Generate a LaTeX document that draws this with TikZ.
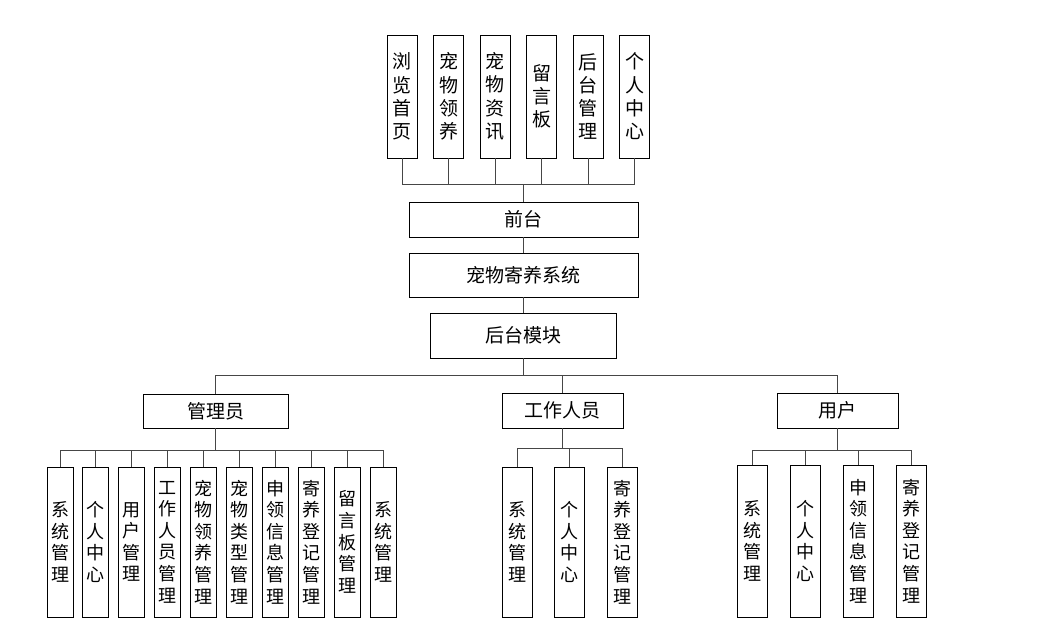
\documentclass[tikz,border=0pt]{standalone}
\usepackage{fontspec}
\setmainfont{Noto Sans CJK SC}
\usetikzlibrary{positioning}
\definecolor{linegray}{RGB}{70,70,70}

\begin{document}
\begin{tikzpicture}[x=1pt, y=-1pt, semithick]

    \tikzstyle{box} = [rectangle, draw=black, line width=0.9pt, inner sep=1pt, outer sep=0pt, align=center, font=\fontsize{19pt}{22pt}\selectfont]
    \tikzstyle{topbox} = [box, minimum width=30pt, minimum height=123pt, font=\fontsize{19pt}{23.3pt}\selectfont]
    \tikzstyle{leaf} = [box, minimum width=30pt, minimum height=150pt, font=\fontsize{18pt}{21.6pt}\selectfont]
    \tikzstyle{link} = [draw=linegray, line width=0.9pt]

    \useasboundingbox (0,0) rectangle (1043,639);

    % front end
    \node (home)    [topbox] at (402,96.5)          {浏\\览\\首\\页};
    \node (adopt)   [topbox, right=16.5pt of home]  {宠\\物\\领\\养};
    \node (news)    [topbox, right=16.5pt of adopt] {宠\\物\\资\\讯};
    \node (board)   [topbox, right=16.5pt of news]  {留\\言\\板};
    \node (backend) [topbox, right=16.5pt of board] {后\\台\\管\\理};
    \node (center)  [topbox, right=16.5pt of backend] {个\\人\\中\\心};

    \node (front)   [box, minimum width=229pt, minimum height=35pt] at (523.5,219.5) {前台};
    \node (system)  [box, minimum width=229pt, minimum height=44pt, below=16pt of front] {宠物寄养系统};
    \node (back)    [box, minimum width=186pt, minimum height=45pt, below=16pt of system] {后台模块};

    % roles
    \node (admin)   [box, minimum width=145pt, minimum height=34pt] at (215.5,411)   {管理员};
    \node (staff)   [box, minimum width=121pt, minimum height=35pt] at (562.5,410.5) {工作人员};
    \node (user)    [box, minimum width=121pt, minimum height=35pt] at (837.5,410.5) {用户};

    % admin modules
    \node (a1)  [leaf, minimum width=26pt] at (60,542)      {系\\统\\管\\理};
    \node (a2)  [leaf, minimum width=26pt, right=9.9pt of a1] {个\\人\\中\\心};
    \node (a3)  [leaf, minimum width=26pt, right=9.9pt of a2] {用\\户\\管\\理};
    \node (a4)  [leaf, minimum width=26pt, right=9.9pt of a3] {工\\作\\人\\员\\管\\理};
    \node (a5)  [leaf, minimum width=26pt, right=9.9pt of a4] {宠\\物\\领\\养\\管\\理};
    \node (a6)  [leaf, minimum width=26pt, right=9.9pt of a5] {宠\\物\\类\\型\\管\\理};
    \node (a7)  [leaf, minimum width=26pt, right=9.9pt of a6] {申\\领\\信\\息\\管\\理};
    \node (a8)  [leaf, minimum width=26pt, right=9.9pt of a7] {寄\\养\\登\\记\\管\\理};
    \node (a9)  [leaf, minimum width=26pt, right=9.9pt of a8] {留\\言\\板\\管\\理};
    \node (a10) [leaf, minimum width=26pt, right=9.9pt of a9] {系\\统\\管\\理};

    % staff modules
    \node (s1)  [leaf] at (517,542)           {系\\统\\管\\理};
    \node (s2)  [leaf, right=22.5pt of s1]    {个\\人\\中\\心};
    \node (s3)  [leaf, right=22.5pt of s2]    {寄\\养\\登\\记\\管\\理};

    % user modules
    \node (u1)  [leaf, minimum height=152pt] at (752,541)        {系\\统\\管\\理};
    \node (u2)  [leaf, minimum height=152pt, right=23.3pt of u1] {个\\人\\中\\心};
    \node (u3)  [leaf, minimum height=152pt, right=23.3pt of u2] {申\\领\\信\\息\\管\\理};
    \node (u4)  [leaf, minimum height=152pt, right=23.3pt of u3] {寄\\养\\登\\记\\管\\理};

    % bus levels
    \coordinate (topbus)  at (0,184);
    \coordinate (rolebus) at (0,375);
    \coordinate (abus)    at (0,450);
    \coordinate (sbus)    at (0,448);
    \coordinate (ubus)    at (0,450);

    \draw[link] (home.south)    -- (home.south |- topbus)    -| (front.north);
    \draw[link] (adopt.south)   -- (adopt.south |- topbus)   -| (front.north);
    \draw[link] (news.south)    -- (news.south |- topbus)    -| (front.north);
    \draw[link] (board.south)   -- (board.south |- topbus)   -| (front.north);
    \draw[link] (backend.south) -- (backend.south |- topbus) -| (front.north);
    \draw[link] (center.south)  -- (center.south |- topbus)  -| (front.north);

    \draw[link] (front.south)  -- (system.north);
    \draw[link] (system.south) -- (back.north);

    \draw[link] (back.south) -- (back.south |- rolebus) -| (admin.north);
    \draw[link] (back.south) -- (back.south |- rolebus) -| (staff.north);
    \draw[link] (back.south) -- (back.south |- rolebus) -| (user.north);

    \draw[link] (admin.south) -- (admin.south |- abus) -| (a1.north);
    \draw[link] (admin.south) -- (admin.south |- abus) -| (a2.north);
    \draw[link] (admin.south) -- (admin.south |- abus) -| (a3.north);
    \draw[link] (admin.south) -- (admin.south |- abus) -| (a4.north);
    \draw[link] (admin.south) -- (admin.south |- abus) -| (a5.north);
    \draw[link] (admin.south) -- (admin.south |- abus) -| (a6.north);
    \draw[link] (admin.south) -- (admin.south |- abus) -| (a7.north);
    \draw[link] (admin.south) -- (admin.south |- abus) -| (a8.north);
    \draw[link] (admin.south) -- (admin.south |- abus) -| (a9.north);
    \draw[link] (admin.south) -- (admin.south |- abus) -| (a10.north);

    \draw[link] (staff.south) -- (staff.south |- sbus) -| (s1.north);
    \draw[link] (staff.south) -- (staff.south |- sbus) -| (s2.north);
    \draw[link] (staff.south) -- (staff.south |- sbus) -| (s3.north);

    \draw[link] (user.south) -- (user.south |- ubus) -| (u1.north);
    \draw[link] (user.south) -- (user.south |- ubus) -| (u2.north);
    \draw[link] (user.south) -- (user.south |- ubus) -| (u3.north);
    \draw[link] (user.south) -- (user.south |- ubus) -| (u4.north);

\end{tikzpicture}
\end{document}
